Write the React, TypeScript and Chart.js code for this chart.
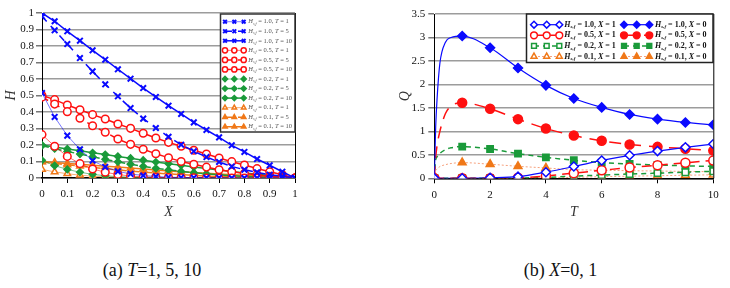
import React, { useEffect, useRef } from 'react';
import { Chart, registerables } from 'chart.js';
import { drawPoint } from 'chart.js/helpers';

Chart.register(...registerables);

// ---------------- DATA (a): H vs X ----------------
const xPositions = [0, 0.05, 0.1, 0.15, 0.2, 0.25, 0.3, 0.35, 0.4, 0.45, 0.5, 0.55, 0.6, 0.65, 0.7, 0.75, 0.8, 0.85, 0.9, 0.95, 1];
const hsfLevels = ['1.0', '0.5', '0.2', '0.1'];
const timeLevels = [1, 5, 10];

const hBlueT1 = [0.515, 0.37, 0.257, 0.174, 0.105, 0.067, 0.04, 0.025, 0.015, 0.009, 0.005, 0.003, 0.002, 0.001, 0.001, 0, 0, 0, 0, 0, 0];
const hBlueT5 = [0.98, 0.895, 0.812, 0.727, 0.646, 0.568, 0.495, 0.424, 0.36, 0.303, 0.25, 0.202, 0.162, 0.127, 0.097, 0.07, 0.05, 0.034, 0.02, 0.01, 0];
const hBlueT10 = [1.0, 0.95, 0.889, 0.832, 0.774, 0.717, 0.659, 0.602, 0.545, 0.491, 0.438, 0.388, 0.337, 0.291, 0.246, 0.198, 0.158, 0.115, 0.077, 0.038, 0];
const hRedT1 = [0.263, 0.192, 0.131, 0.087, 0.055, 0.035, 0.021, 0.012, 0.007, 0.004, 0.002, 0.001, 0.001, 0, 0, 0, 0, 0, 0, 0, 0];
const hRedT5 = [0.49, 0.448, 0.402, 0.362, 0.317, 0.277, 0.236, 0.204, 0.174, 0.147, 0.123, 0.1, 0.083, 0.066, 0.05, 0.038, 0.028, 0.019, 0.011, 0.005, 0];
const hRedT10 = [0.5, 0.475, 0.442, 0.414, 0.384, 0.358, 0.327, 0.301, 0.271, 0.242, 0.216, 0.192, 0.168, 0.145, 0.121, 0.099, 0.079, 0.057, 0.038, 0.02, 0];
const hGreenT1 = [0.107, 0.075, 0.052, 0.035, 0.022, 0.014, 0.008, 0.005, 0.003, 0.002, 0.001, 0, 0, 0, 0, 0, 0, 0, 0, 0, 0];
const hGreenT5 = [0.196, 0.178, 0.161, 0.145, 0.129, 0.113, 0.098, 0.084, 0.071, 0.059, 0.049, 0.04, 0.032, 0.025, 0.019, 0.014, 0.01, 0.007, 0.004, 0.002, 0];
const hGreenT10 = [0.2, 0.188, 0.176, 0.165, 0.153, 0.142, 0.131, 0.12, 0.108, 0.097, 0.087, 0.077, 0.067, 0.058, 0.048, 0.039, 0.031, 0.023, 0.015, 0.008, 0];
const hOrangeT1 = [0.052, 0.037, 0.026, 0.017, 0.011, 0.007, 0.004, 0.002, 0.001, 0, 0, 0, 0, 0, 0, 0, 0, 0, 0, 0, 0];
const hOrangeT5 = [0.098, 0.089, 0.08, 0.072, 0.064, 0.056, 0.049, 0.042, 0.036, 0.03, 0.025, 0.02, 0.016, 0.012, 0.009, 0.007, 0.005, 0.003, 0.002, 0.001, 0];
const hOrangeT10 = [0.1, 0.094, 0.088, 0.083, 0.077, 0.071, 0.066, 0.06, 0.054, 0.049, 0.043, 0.038, 0.034, 0.029, 0.024, 0.02, 0.016, 0.012, 0.008, 0.004, 0];

// ---------------- DATA (b): Q vs T ----------------
const xLevels = [0, 1];
const tDense = [0, 0.05, 0.1, 0.2, 0.4, 0.6, 1, 2, 3, 4, 5, 6, 7, 8, 9, 10];
const tSteps = [0, 1, 2, 3, 4, 5, 6, 7, 8, 9, 10];

const qBlueX0 = [0, 1.1, 1.7, 2.45, 2.9, 3.0, 3.03, 2.78, 2.35, 1.98, 1.7, 1.51, 1.36, 1.26, 1.19, 1.14];
const qRedX0 = [0, 0.45, 0.7, 1.0, 1.38, 1.54, 1.61, 1.48, 1.26, 1.06, 0.91, 0.8, 0.72, 0.67, 0.63, 0.59];
const qGreenX0 = [0, 0.4, 0.46, 0.53, 0.61, 0.65, 0.675, 0.625, 0.525, 0.447, 0.384, 0.335, 0.305, 0.285, 0.265, 0.252];
const qOrangeX0 = [0, 0.15, 0.2, 0.25, 0.29, 0.315, 0.334, 0.3, 0.256, 0.22, 0.185, 0.172, 0.162, 0.155, 0.147, 0.14];
const qBlueX1 = [0, 0, 0.01, 0.035, 0.13, 0.25, 0.38, 0.49, 0.58, 0.66, 0.73];
const qRedX1 = [0, 0, 0, 0.01, 0.05, 0.11, 0.17, 0.23, 0.28, 0.33, 0.38];
const qGreenX1 = [0, 0, 0, 0.005, 0.02, 0.045, 0.07, 0.09, 0.11, 0.13, 0.15];
const qOrangeX1 = [0, 0, 0, 0.002, 0.01, 0.02, 0.035, 0.045, 0.055, 0.065, 0.075];

// ---------------- STYLE ----------------
const FONT = '"Liberation Serif", "Times New Roman", Times, serif';
const BLUE = '#0a0aff';
const RED = '#ff1010';
const GREEN = '#1a9a3a';
const ORANGE = '#f07818';
const SALMON = '#f6a07c';

type LegendItem = { ds: number; xs: number[]; y: number; tx: number; hsf: string; pName: string; pVal: string };
type LegendCfg = {
  box: { x: number; y: number; w: number; h: number };
  boxColor: string;
  boxWidth: number;
  markerRadius: number;
  fontSize: number;
  bold: boolean;
  textColor: string;
  items: LegendItem[];
};

const fmtTick = (v: any) => String(Math.round(Number(v) * 10) / 10);

function drawLabel(ctx: CanvasRenderingContext2D, cfg: LegendCfg, it: LegendItem) {
  const w = cfg.bold ? 'bold ' : '';
  const s = cfg.fontSize;
  let cx = it.tx;
  const y = it.y;
  ctx.fillStyle = cfg.textColor;
  ctx.textBaseline = 'middle';
  ctx.textAlign = 'left';
  ctx.font = `italic ${w}${s}px ${FONT}`;
  ctx.fillText('H', cx, y);
  cx += ctx.measureText('H').width;
  const ss = Math.round(s * 0.62 * 10) / 10;
  ctx.font = `italic ${w}${ss}px ${FONT}`;
  ctx.fillText('s,f', cx, y + s * 0.3);
  cx += ctx.measureText('s,f').width;
  ctx.font = `${w}${s}px ${FONT}`;
  const t1 = ` = ${it.hsf}, `;
  ctx.fillText(t1, cx, y);
  cx += ctx.measureText(t1).width;
  ctx.font = `italic ${w}${s}px ${FONT}`;
  ctx.fillText(it.pName, cx, y);
  cx += ctx.measureText(it.pName).width;
  ctx.font = `${w}${s}px ${FONT}`;
  ctx.fillText(` = ${it.pVal}`, cx, y);
}

function makeLegendPlugin(cfg: LegendCfg) {
  return {
    id: 'inlineLegend',
    afterDraw(chart: any) {
      const ctx: CanvasRenderingContext2D = chart.ctx;
      ctx.save();
      const b = cfg.box;
      ctx.fillStyle = '#fff';
      ctx.fillRect(b.x, b.y, b.w, b.h);
      ctx.strokeStyle = cfg.boxColor;
      ctx.lineWidth = cfg.boxWidth;
      ctx.setLineDash([]);
      ctx.strokeRect(b.x, b.y, b.w, b.h);
      for (const it of cfg.items) {
        const ds: any = chart.data.datasets[it.ds];
        ctx.save();
        ctx.setLineDash(ds.borderDash || []);
        ctx.strokeStyle = ds.borderColor;
        ctx.lineWidth = ds.borderWidth;
        ctx.beginPath();
        ctx.moveTo(it.xs[0], it.y);
        ctx.lineTo(it.xs[it.xs.length - 1], it.y);
        ctx.stroke();
        ctx.setLineDash([]);
        for (const mx of it.xs) {
          ctx.fillStyle = ds.pointBackgroundColor;
          ctx.strokeStyle = ds.pointBorderColor;
          ctx.lineWidth = ds.pointBorderWidth;
          drawPoint(ctx, { pointStyle: ds.pointStyle, radius: cfg.markerRadius, borderWidth: ds.pointBorderWidth, rotation: 0 } as any, mx, it.y);
        }
        ctx.restore();
        drawLabel(ctx, cfg, it);
      }
      ctx.restore();
    },
  };
}

const rightBorderPlugin = {
  id: 'rightBorder',
  afterDatasetsDraw(chart: any) {
    const { ctx, chartArea } = chart;
    ctx.save();
    ctx.strokeStyle = '#000';
    ctx.lineWidth = 1;
    ctx.beginPath();
    ctx.moveTo(chartArea.right + 0.5, chartArea.top);
    ctx.lineTo(chartArea.right + 0.5, chartArea.bottom);
    ctx.stroke();
    ctx.restore();
  },
};

const tickFont = { family: FONT, size: 11 };
const titleFont = { family: FONT, size: 14, style: 'italic' as const };

// ---------------- CHART (a) ----------------
function ChartA() {
  const ref = useRef<HTMLCanvasElement | null>(null);
  useEffect(() => {
    if (!ref.current) return;
    const seriesByLevel = [
      [hBlueT1, hBlueT5, hBlueT10],
      [hRedT1, hRedT5, hRedT10],
      [hGreenT1, hGreenT5, hGreenT10],
      [hOrangeT1, hOrangeT5, hOrangeT10],
    ];
    const colors = [BLUE, RED, GREEN, ORANGE];
    const faded = ['rgba(10,10,255,0.55)', 'rgba(255,16,16,0.6)', 'rgba(26,154,58,0.6)', 'rgba(240,120,24,0.6)'];
    const styles = ['crossRot', 'circle', 'rectRot', 'triangle'];
    const radii = [4, 3.8, 3.3, 3.8];
    const datasets: any[] = [];
    seriesByLevel.forEach((group, li) => {
      group.forEach((vals, ti) => {
        const c = colors[li];
        let bg = c;
        if (li === 1) bg = '#fff';
        if (li === 3 && ti === 0) bg = '#fff';
        datasets.push({
          label: `H_s,f = ${hsfLevels[li]}, T = ${timeLevels[ti]}`,
          data: vals.map((v, i) => ({ x: xPositions[i], y: v })),
          borderColor: ti === 0 ? faded[li] : c,
          borderWidth: ti === 0 ? 1 : 1.5,
          borderDash: ti === 1 ? [7, 6] : [],
          pointStyle: styles[li],
          pointRadius: radii[li],
          pointBorderWidth: li === 0 ? 2 : 1.5,
          pointBorderColor: c,
          pointBackgroundColor: bg,
          fill: false,
          tension: 0,
        });
      });
    });
    const items: LegendItem[] = [];
    let k = 0;
    hsfLevels.forEach((h, li) => {
      timeLevels.forEach((t, ti) => {
        items.push({ ds: li * 3 + ti, xs: [225, 234.3, 243.7], y: 21.7 + k * 9.55, tx: 248.3, hsf: h, pName: 'T', pVal: String(t) });
        k++;
      });
    });
    const legend = makeLegendPlugin({
      box: { x: 220.5, y: 14, w: 74.5, h: 118 },
      boxColor: '#333',
      boxWidth: 1.5,
      markerRadius: 2.6,
      fontSize: 6.5,
      bold: false,
      textColor: '#555',
      items,
    });
    const chart = new Chart(ref.current, {
      type: 'line',
      data: { datasets },
      options: {
        animation: false,
        responsive: false,
        layout: { padding: { top: 13, right: 15, left: 0, bottom: 0 } },
        plugins: { legend: { display: false }, tooltip: { enabled: false } },
        scales: {
          x: {
            type: 'linear',
            min: 0,
            max: 1,
            afterFit: (s: any) => { s.height = 52; },
            ticks: { stepSize: 0.1, font: tickFont, color: '#111', padding: 5, maxRotation: 0, callback: fmtTick },
            grid: { display: true, drawOnChartArea: false, drawTicks: true, tickLength: 5, tickColor: '#000' },
            border: { display: true, color: '#000', width: 1.5 },
            title: { display: true, text: 'X', font: titleFont, color: '#333', padding: { top: 0, bottom: 9 } },
          },
          y: {
            min: 0,
            max: 1,
            afterFit: (s: any) => { s.width = 42; },
            ticks: { stepSize: 0.1, font: tickFont, color: '#111', padding: 2, callback: fmtTick },
            grid: { color: '#9c9c9c', lineWidth: 1.5, drawTicks: true, tickLength: 6, tickColor: '#777' },
            border: { display: true, color: '#000', width: 1 },
            title: { display: true, text: 'H', font: titleFont, color: '#333', padding: { top: 3, bottom: 0 } },
          },
        },
      },
      plugins: [rightBorderPlugin, legend],
    } as any);
    return () => chart.destroy();
  }, []);
  return <canvas ref={ref} width={310} height={230} style={{ position: 'absolute', left: 0, top: 0, width: 310, height: 230 }} />;
}

// ---------------- CHART (b) ----------------
function ChartB() {
  const ref = useRef<HTMLCanvasElement | null>(null);
  useEffect(() => {
    if (!ref.current) return;
    const markR = (c: any) => (c.raw && Number.isInteger(c.raw.x) ? 4.5 : 0);
    const mk = (ts: number[], vals: number[]) => vals.map((v, i) => ({ x: ts[i], y: v }));
    const base = { fill: false, cubicInterpolationMode: 'monotone', pointRadius: markR, pointBorderWidth: 1.5 };
    const datasets: any[] = [
      { ...base, label: 'H_s,f = 1.0, X = 1', data: mk(tSteps, qBlueX1), borderColor: BLUE, borderWidth: 1.2, borderDash: [], pointStyle: 'rectRot', pointBorderColor: BLUE, pointBackgroundColor: '#fff' },
      { ...base, label: 'H_s,f = 1.0, X = 0', data: mk(tDense, qBlueX0), borderColor: BLUE, borderWidth: 1.2, borderDash: [], pointStyle: 'rectRot', pointBorderColor: BLUE, pointBackgroundColor: BLUE },
      { ...base, label: 'H_s,f = 0.5, X = 1', data: mk(tSteps, qRedX1), borderColor: RED, borderWidth: 1.5, borderDash: [10, 6], pointStyle: 'circle', pointBorderColor: RED, pointBackgroundColor: '#fff' },
      { ...base, label: 'H_s,f = 0.5, X = 0', data: mk(tDense, qRedX0), borderColor: RED, borderWidth: 1.5, borderDash: [12, 8], pointStyle: 'circle', pointBorderColor: RED, pointBackgroundColor: RED },
      { ...base, label: 'H_s,f = 0.2, X = 1', data: mk(tSteps, qGreenX1), borderColor: GREEN, borderWidth: 1.5, borderDash: [5, 4], pointStyle: 'rect', pointBorderColor: GREEN, pointBackgroundColor: '#fff' },
      { ...base, label: 'H_s,f = 0.2, X = 0', data: mk(tDense, qGreenX0), borderColor: GREEN, borderWidth: 1.5, borderDash: [5, 4], pointStyle: 'rect', pointBorderColor: GREEN, pointBackgroundColor: GREEN },
      { ...base, label: 'H_s,f = 0.1, X = 1', data: mk(tSteps, qOrangeX1), borderColor: SALMON, borderWidth: 1, borderDash: [2, 2], pointStyle: 'triangle', pointBorderColor: ORANGE, pointBackgroundColor: '#fff' },
      { ...base, label: 'H_s,f = 0.1, X = 0', data: mk(tDense, qOrangeX0), borderColor: SALMON, borderWidth: 1, borderDash: [2, 2], pointStyle: 'triangle', pointBorderColor: ORANGE, pointBackgroundColor: ORANGE },
    ];
    const items: LegendItem[] = [];
    hsfLevels.forEach((h, li) => {
      [1, 0].forEach((xi, ci) => {
        const xv = xLevels[xi];
        const col = ci === 0 ? [144, 156.7, 169.3] : [234, 246.7, 259.3];
        const tx = ci === 0 ? 174.3 : 265;
        items.push({ ds: li * 2 + ci, xs: col, y: 24.7 + li * 10.6, tx, hsf: h, pName: 'X', pVal: String(xv) });
      });
    });
    const legend = makeLegendPlugin({
      box: { x: 136.5, y: 14, w: 186.5, h: 48.5 },
      boxColor: '#222',
      boxWidth: 1.5,
      markerRadius: 3.4,
      fontSize: 8,
      bold: true,
      textColor: '#111',
      items,
    });
    const chart = new Chart(ref.current, {
      type: 'line',
      data: { datasets },
      options: {
        animation: false,
        responsive: false,
        layout: { padding: { top: 14, right: 16.7, left: 0, bottom: 0 } },
        plugins: { legend: { display: false }, tooltip: { enabled: false } },
        scales: {
          x: {
            type: 'linear',
            min: 0,
            max: 10,
            afterFit: (s: any) => { s.height = 51.7; },
            ticks: { stepSize: 2, font: tickFont, color: '#111', padding: 5, maxRotation: 0, callback: fmtTick },
            grid: { display: true, drawOnChartArea: false, drawTicks: true, tickLength: 5, tickColor: '#000' },
            border: { display: true, color: '#000', width: 1.5 },
            title: { display: true, text: 'T', font: titleFont, color: '#333', padding: { top: 0, bottom: 9 } },
          },
          y: {
            min: 0,
            max: 3.5,
            afterFit: (s: any) => { s.width = 44.3; },
            ticks: { stepSize: 0.5, font: tickFont, color: '#111', padding: 3, callback: fmtTick },
            grid: { color: '#9c9c9c', lineWidth: 1.5, drawTicks: true, tickLength: 6, tickColor: '#777' },
            border: { display: true, color: '#000', width: 1 },
            title: { display: true, text: 'Q', font: titleFont, color: '#333', padding: { top: 6.6, bottom: 0 } },
          },
        },
      },
      plugins: [rightBorderPlugin, legend],
    } as any);
    return () => chart.destroy();
  }, []);
  return <canvas ref={ref} width={340} height={230} style={{ position: 'absolute', left: 390, top: 0, width: 340, height: 230 }} />;
}

export default function App() {
  const capStyle: React.CSSProperties = {
    position: 'absolute',
    top: 260,
    fontFamily: FONT,
    fontSize: 18,
    lineHeight: '20px',
    color: '#111',
    textAlign: 'center',
    whiteSpace: 'nowrap',
  };
  return (
    <div style={{ position: 'absolute', left: 0, top: 0, width: 730, height: 288, background: '#fff', overflow: 'hidden' }}>
      <ChartA />
      <ChartB />
      <div style={{ ...capStyle, left: 0, width: 304 }}>
        (a) <i>T</i>={timeLevels.join(', ')}
      </div>
      <div style={{ ...capStyle, left: 460, width: 201 }}>
        (b) <i>X</i>={xLevels.join(', ')}
      </div>
    </div>
  );
}
